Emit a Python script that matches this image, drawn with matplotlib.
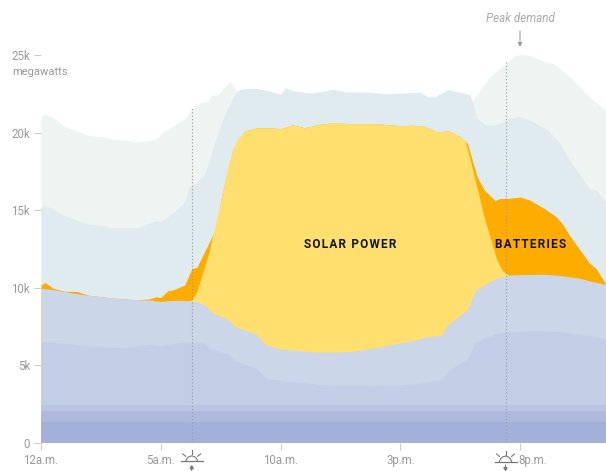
import matplotlib
matplotlib.use("Agg")
import matplotlib.pyplot as plt
from matplotlib.transforms import ScaledTranslation

plt.rcParams['font.family'] = ['Roboto', 'DejaVu Sans']

# hours after midnight, values in thousands of megawatts (top edge of each layer)
peak_hours = [0, 0.15, 0.5, 1, 1.5, 2, 2.5, 3, 3.5, 4, 4.5, 4.85, 5.15, 5.5, 6, 6.3, 6.64, 6.98, 7.12, 7.4, 7.86, 7.98, 8.2,
              18.0, 18.06, 18.73, 19.42, 19.77, 20.12, 20.53, 21.02, 21.37, 22.07, 22.76, 23.18, 23.58]
peak_top = [21.07, 21.17, 20.98, 20.38, 20.1, 19.8, 19.73, 19.56, 19.5, 19.4, 19.47, 19.66, 20.1, 20.4, 20.9, 21.56, 21.9, 22.05, 22.4, 22.46, 23.28, 23.17, 22.6,
            22.0, 22.16, 23.6, 24.5, 24.96, 25.04, 24.9, 24.57, 24.46, 23.6, 22.5, 21.9, 21.45]

other_hours = [0, 0.15, 0.5, 1, 1.5, 2, 2.5, 3, 3.5, 4, 4.5, 4.8, 5, 5.5, 6, 6.2, 6.5, 6.8, 7, 7.19, 7.47, 7.75, 8.03, 8.24, 8.5, 9, 9.5, 10, 10.2, 10.5, 10.93,
               11.35, 12.19, 12.74, 13.72, 14.41, 15.8, 16.15, 16.43, 16.99, 17.47, 17.89, 18.03, 18.17, 18.52, 18.93, 19.42, 19.91, 20.4, 21.16, 21.65, 22.07, 22.49, 22.9, 23.18, 23.58]
other_top = [15.2, 15.3, 15.06, 14.6, 14.35, 14.07, 14.0, 13.85, 13.85, 13.85, 14.14, 14.3, 14.25, 14.8, 15.55, 16.5, 16.8, 17.25, 18.0, 19.08, 20.37, 21.45, 22.3, 22.74, 22.85, 22.85, 22.7, 22.46, 22.9, 22.7, 22.6,
             22.55, 22.78, 22.62, 22.6, 22.5, 22.6, 22.3, 22.3, 22.78, 22.6, 22.45, 21.9, 21.0, 20.5, 20.45, 20.8, 21.05, 20.8, 20.15, 19.3, 18.2, 17.25, 16.4, 16.3, 15.44]

battery_hours = [0, 0.17, 0.5, 1, 1.5, 2, 2.5, 3, 3.5, 4, 4.5, 4.8, 5, 5.3, 5.5, 6, 6.3, 6.5, 7, 7.2, 7.4, 7.5, 8, 8.5, 9, 9.5, 10, 10.5, 11, 11.5, 12, 12.5, 13, 14, 14.5, 15, 15.5, 16, 16.5, 17, 17.5,
                 17.8, 18, 18.2, 18.5, 18.95, 19.15, 19.5, 20, 20.4, 21, 21.5, 21.8, 22, 22.34, 22.9, 23.18, 23.5, 23.58]
battery_top = [10.16, 10.33, 9.95, 9.75, 9.75, 9.5, 9.41, 9.32, 9.26, 9.21, 9.26, 9.4, 9.35, 9.8, 9.84, 10.16, 11.24, 11.28, 12.85, 13.5, 14.47, 15.65, 18.9, 20.1, 20.3, 20.3, 20.25, 20.5, 20.3, 20.5, 20.6, 20.6, 20.57, 20.57, 20.5, 20.44, 20.47, 20.4, 20.05, 20.1, 19.73,
               19.3, 18.2, 17.15, 16.3, 15.6, 15.75, 15.75, 15.84, 15.64, 15.1, 14.57, 14.03, 13.5, 12.75, 11.56, 11.2, 10.4, 10.2]

solar_hours = [6, 6.3, 6.5, 7, 7.47, 7.75, 8, 8.17, 8.5, 9, 9.5, 10, 10.5, 11, 11.5, 12, 12.5, 13, 14, 14.5, 15, 15.5, 16, 16.5, 17, 17.5, 17.7, 18, 18.5, 19, 19.25, 19.5]
solar_top = [9.1, 9.2, 9.73, 12.2, 15.4, 17.4, 18.9, 19.5, 20.1, 20.3, 20.3, 20.25, 20.5, 20.3, 20.5, 20.6, 20.6, 20.57, 20.57, 20.5, 20.44, 20.47, 20.4, 20.05, 20.1, 19.73, 19.5, 17.7, 14.5, 11.9, 11.1, 10.8]

step_hours = [0, 0.5, 1, 1.5, 2, 2.5, 3, 3.5, 4, 4.5, 5, 5.5, 6, 6.5, 6.8, 7.03, 7.2, 7.8, 8.1, 9, 9.4, 10, 10.5, 11, 11.5, 12,
              13, 14, 15, 15.5, 16, 16.3, 16.75, 16.95, 17.1, 17.78, 17.96, 18.1, 18.35, 19, 19.5, 20, 21, 21.5, 22, 22.5, 23, 23.58]
light_top = [9.95, 9.86, 9.73, 9.6, 9.5, 9.41, 9.32, 9.26, 9.21, 9.19, 9.1, 9.17, 9.17, 9.1, 8.9, 8.55, 8.33, 7.95, 7.47, 6.98, 6.29, 6.03, 5.97, 5.9, 5.84, 5.82,
             5.88, 6.12, 6.44, 6.57, 6.78, 6.85, 6.95, 7.58, 7.75, 8.55, 9.19, 9.73, 10.05, 10.6, 10.8, 10.83, 10.85, 10.8, 10.7, 10.6, 10.38, 10.2]
gas_top = [6.5, 6.45, 6.4, 6.32, 6.25, 6.2, 6.14, 6.16, 6.23, 6.33, 6.25, 6.4, 6.48, 6.48, 6.46, 6.07, 5.98, 5.72, 5.26, 4.78, 4.14, 3.99, 3.92, 3.88, 3.77, 3.71,
           3.67, 3.69, 3.71, 3.78, 3.86, 3.95, 4.1, 4.55, 4.78, 5.39, 5.86, 6.4, 6.65, 7.04, 7.15, 7.2, 7.21, 7.17, 7.09, 6.98, 6.87, 6.66]

base_hours = [0, 23.58]
base3_top = [2.42, 2.42]
base2_top = [2.05, 2.05]
base1_top = [1.34, 1.34]

sunrise = 6.3
sunset = 19.42

xticks = [0, 5, 10, 15, 20]
xlabels = ['12a.m.', '5a.m.', '10a.m.', '3p.m.', '8p.m.']
yticks = [0, 5, 10, 15, 20, 25]
ylabels = ['0', '5k', '10k', '15k', '20k', '25k']

fig = plt.figure(figsize=(6.06, 4.71), dpi=100)
ax = fig.add_axes([41 / 606, 28.5 / 471, 565 / 606, 442.5 / 471])

layers = [(peak_hours, peak_top, '#edf4f1'), (other_hours, other_top, '#e0ebf0'),
          (battery_hours, battery_top, '#ffac00'), (solar_hours, solar_top, '#ffe06e'),
          (step_hours, light_top, '#cbd6e8'), (step_hours, gas_top, '#c1cee6'),
          (base_hours, base3_top, '#b9c6e1'), (base_hours, base2_top, '#aeb9dc'),
          (base_hours, base1_top, '#a3b1da')]
for hrs, top, col in layers:
    ax.fill_between(hrs, top, 0, color=col, linewidth=0)

ax.vlines(sunrise, 0, 21.55, color='#999999', linewidth=0.8, linestyle=(0, (1, 2)))
ax.vlines(sunset, 0, 24.55, color='#999999', linewidth=0.8, linestyle=(0, (1, 2)))

ax.set_xlim(0, 23.58)
ax.set_ylim(0, 28.55)
for s in ax.spines.values():
    s.set_visible(False)
ax.patch.set_visible(False)
ax.set_xticks(xticks)
ax.set_xticklabels(xlabels)
ax.set_yticks(yticks)
ax.set_yticklabels(ylabels)
ax.tick_params(axis='x', length=5, width=0.8, color='#cccccc', labelcolor='#999999', labelsize=8.3, pad=3)
ax.tick_params(axis='y', length=5, width=0.8, color='#cccccc', labelcolor='#999999', labelsize=8.3, pad=3)
# 8p.m. sits to the right of the sunset mark
lab = ax.get_xticklabels()[-1]
lab.set_horizontalalignment('left')
lab.set_transform(lab.get_transform() + ScaledTranslation(-2 / 100, 0, fig.dpi_scale_trans))

ax.text(-29 / 23.96, 23.9, 'megawatts', color='#999999', fontsize=8, ha='left', va='center', clip_on=False)
hair = '\u200a'
ax.text(309 / 23.96, 12.75, hair.join('SOLAR') + hair + ' ' + hair + hair.join('POWER'), fontsize=8.5, fontweight='bold',
        color='#111111', ha='center', va='center')
ax.text(490 / 23.96, 12.75, hair.join('BATTERIES'), fontsize=8.5, fontweight='bold',
        color='#111111', ha='center', va='center')

# sun marks and the peak note are drawn in pixel coordinates
pix = fig.add_axes([0, 0, 1, 1])
pix.set_xlim(0, 606)
pix.set_ylim(471, 0)
pix.axis('off')


def sun(cx, cy, up):
    ic = '#777777'
    pix.plot([cx - 11, cx + 11], [cy, cy], color=ic, lw=0.9)
    pts = [-6, -5, -3, 0, 3, 5, 6]
    pix.plot([cx + p for p in pts], [cy, cy - 2.5, cy - 4.5, cy - 5.5, cy - 4.5, cy - 2.5, cy], color=ic, lw=0.8)
    pix.plot([cx, cx], [cy - 7, cy - 11], color=ic, lw=0.8)
    pix.plot([cx - 6, cx - 9], [cy - 5, cy - 7.5], color=ic, lw=0.8)
    pix.plot([cx + 6, cx + 9], [cy - 5, cy - 7.5], color=ic, lw=0.8)
    if up:
        pix.annotate('', xy=(cx, cy + 3.5), xytext=(cx, cy + 10),
                     arrowprops=dict(arrowstyle='-|>,head_width=0.12,head_length=0.2', color=ic, lw=0.8, shrinkA=0, shrinkB=0))
    else:
        pix.annotate('', xy=(cx, cy + 10), xytext=(cx, cy + 3.5),
                     arrowprops=dict(arrowstyle='-|>,head_width=0.12,head_length=0.2', color=ic, lw=0.8, shrinkA=0, shrinkB=0))


sun(191.7, 461.3, True)
sun(505.5, 461.5, False)

pix.text(520, 18, 'Peak demand', color='#aaaaaa', fontsize=8.4, style='italic', ha='center', va='center')
pix.annotate('', xy=(520, 47), xytext=(520, 31),
             arrowprops=dict(arrowstyle='-|>,head_width=0.12,head_length=0.25', color='#999999', lw=0.7, shrinkA=0, shrinkB=0))

fig.savefig('out.png', dpi=100)
